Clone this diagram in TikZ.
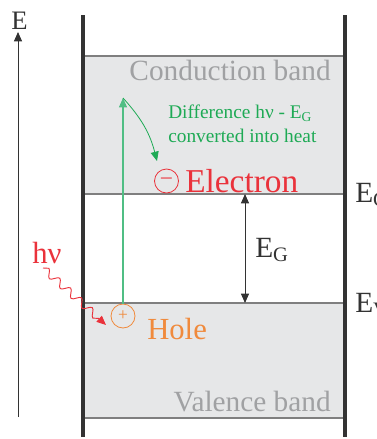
\documentclass[tikz,border=0pt]{standalone}
\usepackage{fontspec}
\setmainfont{Liberation Serif}
\usepackage{tikz}
\usetikzlibrary{arrows.meta, decorations.pathmorphing}
\definecolor{bandColor}{HTML}{E6E7E8}
\definecolor{bandTextColor}{HTML}{A0A1A3}
\definecolor{lineColor}{HTML}{333333}
\definecolor{edgeColor}{HTML}{7F7F7F}
\definecolor{electronColor}{HTML}{EA323B}
\definecolor{holeColor}{HTML}{F08A3C}
\definecolor{heatColor}{HTML}{1EAA55}
\definecolor{exciteColor}{HTML}{50BE84}

\begin{document}
\begin{tikzpicture}[x=0.75pt, y=-0.75pt,
    wall/.style={line width=2.3pt, lineColor},
    edge/.style={line width=0.8pt, edgeColor},
    tip/.style={-{Triangle[length=7pt, width=6pt]}},
    bandlabel/.style={bandTextColor, inner sep=0pt, font=\fontsize{22}{24}\selectfont},
    level/.style={lineColor, inner sep=0pt, font=\fontsize{22}{24}\selectfont},
    charge/.style={circle, draw, line width=0.6pt, minimum size=18pt, inner sep=0pt}]
    \useasboundingbox (0,0) rectangle (377,439);
    % bands
    \fill[bandColor] (83,56) rectangle (345,194);
    \fill[bandColor] (83,303) rectangle (345,418);
    \draw[edge] (83,56) -- (345,56);
    \draw[edge] (83,194) -- (345,194);
    \draw[edge] (83,303) -- (345,303);
    \draw[edge] (83,418) -- (345,418);
    \draw[wall] (83,15) -- (83,437);
    \draw[wall] (345,15) -- (345,437);
    \node[bandlabel, anchor=base east] (cband) at (331,80) {Conduction band};
    \node[bandlabel, anchor=base east] (vband) at (331,411) {Valence band};
    % energy axis
    \node[level, anchor=base west, font=\fontsize{20}{22}\selectfont] (eaxis) at (11,29) {E};
    \coordinate (axisfoot) at (18,417);
    \draw[lineColor, line width=0.7pt, tip] (axisfoot) -- (18,32);
    \node[level, anchor=base west] (ec) at (355,202) {E\textsubscript{C}};
    \node[level, anchor=base west] (ev) at (355,312) {E\textsubscript{V}};
    % band gap
    \coordinate (gaptop) at (245,194);
    \coordinate (gapbot) at (245,303);
    \draw[lineColor, line width=0.7pt, {Triangle[length=7pt, width=6pt]}-{Triangle[length=7pt, width=6pt]}] (gaptop) -- (gapbot);
    \node[level, anchor=base west] (eg) at (255,257) {E\textsubscript{G}};
    % carriers
    \node[charge, electronColor, font=\fontsize{16}{16}\selectfont] (minus) at (166.5,181) {\raisebox{1pt}{--}};
    \node[electronColor, anchor=base west, inner sep=0pt, font=\fontsize{25}{28}\selectfont] (electron) at (185,192) {Electron};
    \node[charge, holeColor, font=\fontsize{13}{13}\selectfont] (plus) at (123,316) {+};
    \node[holeColor, anchor=base west, inner sep=0pt, font=\fontsize{23}{25}\selectfont] (hole) at (147,339) {Hole};
    % photon
    \node[electronColor, anchor=base west, inner sep=0pt, font=\fontsize{23}{25}\selectfont] (photon) at (32,263) {hν};
    \coordinate (photonend) at (106,325);
    \draw[electronColor, line width=0.7pt, tip,
        decorate, decoration={snake, segment length=11pt, amplitude=2.8pt, post length=6pt}]
        (43,268) -- (photonend);
    % excitation and relaxation
    \coordinate (excite) at (123,98);
    \coordinate (relax) at (157,161);
    \draw[exciteColor, line width=0.8pt, tip] (plus.north) -- (excite);
    \draw[heatColor, line width=0.6pt, tip] (excite) to[bend left=14] (relax);
    \node[heatColor, anchor=north west, align=left, inner sep=0pt, font=\fontsize{14.5}{17.5}\selectfont]
        (heat) at (168,105) {Difference hν - E\textsubscript{G}\\converted into heat};
\end{tikzpicture}
\end{document}
